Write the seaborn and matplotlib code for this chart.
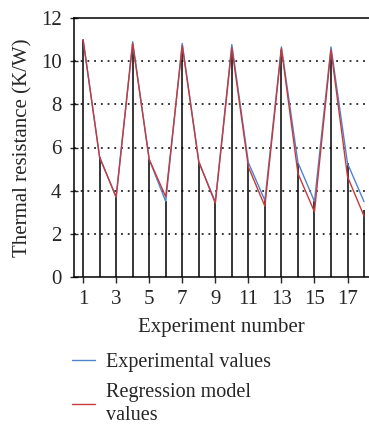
# Thermal resistance: experimental vs regression model values
import numpy as np
import pandas as pd
import matplotlib
matplotlib.use('Agg')
import matplotlib.pyplot as plt
from matplotlib.lines import Line2D
import seaborn as sns

# data
experiment = list(range(1, 19))
experimental = [11.0, 5.55, 3.7, 10.9, 5.45, 3.5, 10.82, 5.34, 3.48,
                10.77, 5.3, 3.55, 10.66, 5.3, 3.5, 10.66, 5.26, 3.49]
regression = [11.0, 5.55, 3.7, 10.82, 5.45, 3.72, 10.72, 5.34, 3.42,
              10.62, 5.1, 3.28, 10.58, 4.8, 3.02, 10.52, 4.65, 2.82]
stem_top = [10.97, 5.55, 3.7, 10.77, 5.45, 3.5, 10.6, 5.34, 3.48,
            10.55, 5.3, 3.55, 10.54, 5.3, 3.5, 10.5, 5.3, 3.1]
x_ticks = [1, 3, 5, 7, 9, 11, 13, 15, 17]
y_ticks = [0, 2, 4, 6, 8, 10, 12]

df = pd.DataFrame({'exp': experiment, 'Experimental values': experimental,
                   'Regression model values': regression})

sns.set_style('ticks')
plt.rcParams['font.family'] = ['Liberation Serif', 'DejaVu Serif']
plt.rcParams['font.size'] = 14.5

blue = '#4f83cc'
red = '#c8393b'

fig = plt.figure(figsize=(3.69, 4.28), dpi=100)
ax = fig.add_axes([74 / 369, 1 - 277 / 428, 295 / 369, 259 / 428])

# black stems from 0 up to each point
ax.vlines(experiment, 0, stem_top, color='black', linewidth=1.1, zorder=1)

# dotted grid lines
for yv in y_ticks[1:-1]:
    ax.axhline(yv, color='black', linestyle=(0, (1.2, 3.2)), linewidth=1.1, zorder=0)

sns.lineplot(data=df, x='exp', y='Experimental values', color=blue, linewidth=1.0, ax=ax, zorder=3)
sns.lineplot(data=df, x='exp', y='Regression model values', color=red, linewidth=1.0, ax=ax, zorder=4)

ax.set_xlim(0.45, 18.3)
ax.set_ylim(0, 12)
ax.set_xticks(x_ticks)
ax.set_yticks(y_ticks)
ax.tick_params(axis='y', direction='inout', length=6, width=1, pad=6, labelsize=15)
ax.tick_params(axis='x', direction='out', length=4, width=1, pad=5, labelsize=15)
ax.spines['right'].set_visible(False)
for s in ['left', 'bottom', 'top']:
    ax.spines[s].set_linewidth(1.1)
    ax.spines[s].set_color('black')

ax.set_xlabel('Experiment number', fontsize=15, labelpad=7)
ax.set_ylabel('Thermal resistance (K/W)', fontsize=15, labelpad=6)

handles = [Line2D([], [], color=blue, linewidth=1.0),
           Line2D([], [], color=red, linewidth=1.0)]
leg = fig.legend(handles, ['Experimental values', 'Regression model\nvalues'],
                 loc='upper left', bbox_to_anchor=(54 / 369, 1 - 335 / 428),
                 frameon=False, fontsize=14.5, handlelength=1.15, handletextpad=0.55,
                 labelspacing=0.55, borderpad=0.4)
for t in leg.get_texts():
    t.set_linespacing(1.3)

fig.savefig('out.png', dpi=100)
